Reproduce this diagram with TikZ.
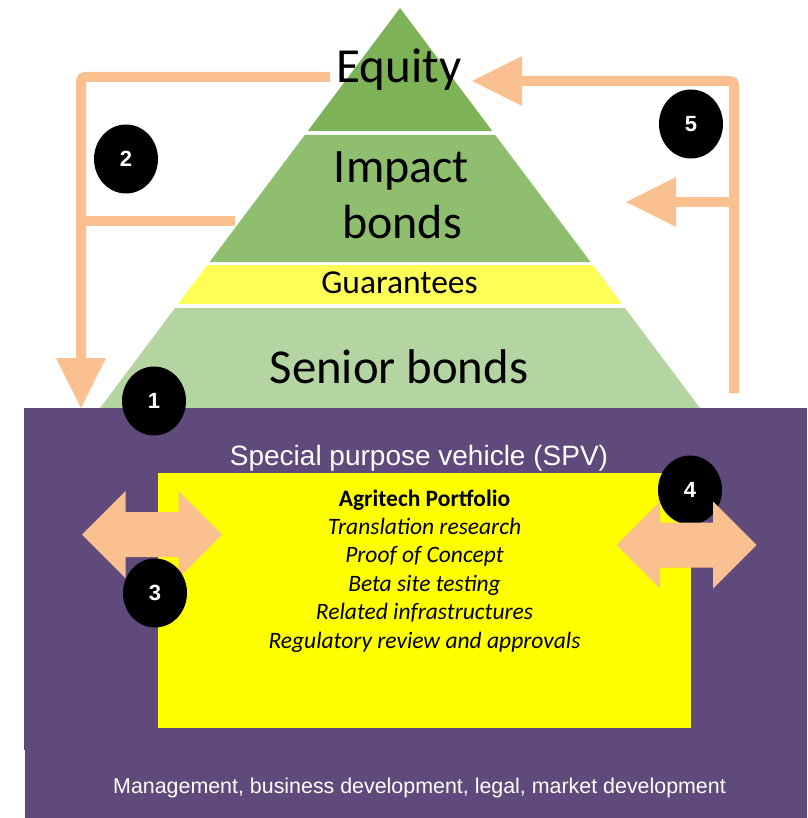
\documentclass[tikz,border=0pt]{standalone}
\usepackage{fontspec}
\setmainfont{Carlito}
\newfontfamily\arialfont{Liberation Sans}
\usetikzlibrary{arrows.meta,shapes.geometric}
\definecolor{equitygreen}{HTML}{7DB356}
\definecolor{impactgreen}{HTML}{8FBE6E}
\definecolor{guaranteeyellow}{HTML}{FFFF55}
\definecolor{seniorgreen}{HTML}{B4D4A2}
\definecolor{spvpurple}{HTML}{604A7B}
\definecolor{flowpeach}{HTML}{FAC090}
\definecolor{portfolioyellow}{HTML}{FFFF00}

\begin{document}
\begin{tikzpicture}[x=1pt,y=-1pt,
  tier/.style={anchor=base, text=black, inner sep=0pt},
  bigtier/.style={tier, font=\fontsize{48}{48}\selectfont},
  flow/.style={draw=flowpeach, line width=10pt, rounded corners=4pt},
  flowtip/.style={-{Triangle[width=50pt,length=50pt,line width=0pt]}},
  badge/.style={shape=ellipse, fill=black, text=white, inner sep=0pt,
    minimum width=64pt, minimum height=69pt,
    font=\arialfont\bfseries\fontsize{22}{22}\selectfont},
  whitetext/.style={text=white, anchor=base, inner sep=0pt},
  stage/.style={anchor=base, inner sep=0pt, font=\itshape\fontsize{23.5}{23.5}\selectfont},
  pics/twoway/.style={code={
    \fill[flowpeach] (-70,0) -- (-26.5,-43.5) -- (-26.5,-22.5) -- (26.5,-22.5)
      -- (26.5,-43.5) -- (70,0) -- (26.5,43.5) -- (26.5,22.5) -- (-26.5,22.5)
      -- (-26.5,43.5) -- cycle;}}
]
\useasboundingbox (0,0) rectangle (807,818);

% capital pyramid, four tiers
\fill[equitygreen] (400,8) -- (492.25,131) -- (307.75,131) -- cycle;
\fill[impactgreen] (304.75,135) -- (495.25,135) -- (590.5,262) -- (209.5,262) -- cycle;
\fill[guaranteeyellow] (207.25,265) -- (592.75,265) -- (622,304) -- (178,304) -- cycle;
\fill[seniorgreen] (175,308) -- (625,308) -- (700,408) -- (100,408) -- cycle;

\node[tier, font=\fontsize{49}{49}\selectfont] (equity) at (399,83) {Equity};
\node[bigtier] (impact) at (401.5,183) {Impact};
\node[bigtier] (bonds) at (402,238) {bonds};
\node[tier, font=\fontsize{33.5}{33.5}\selectfont] (guarantees) at (399.5,293) {Guarantees};
\node[tier, font=\fontsize{48.7}{48.7}\selectfont] (senior) at (399,383) {Senior bonds};

% funding flows
\coordinate (eqout) at (330,77);
\coordinate (leftcorner) at (81,77);
\coordinate (spvin) at (81,408);
\coordinate (impactout) at (235,221);
\coordinate (leftjoin) at (81,221);
\draw[flow, flowtip] (eqout) -- (leftcorner) -- (spvin);
\draw[flow] (impactout) -- (leftjoin);

\coordinate (spvout) at (734,393);
\coordinate (rightcorner) at (734,81);
\coordinate (eqin) at (472,81);
\coordinate (rightjoin) at (734,202);
\coordinate (impactin) at (626,202);
\draw[flow, flowtip] (spvout) -- (rightcorner) -- (eqin);
\draw[flow, flowtip] (rightjoin) -- (impactin);

% special purpose vehicle
\node[fill=spvpurple, anchor=north west, inner sep=0pt,
  minimum width=783pt, minimum height=342pt] (spv) at (24,408) {};
\node[fill=spvpurple, anchor=north west, inner sep=0pt,
  minimum width=782pt, minimum height=68pt] (services) at (25,750) {};
\node[fill=portfolioyellow, anchor=north west, inner sep=0pt,
  minimum width=533pt, minimum height=255pt] (portfoliobox) at (158,473) {};

\node[whitetext, font=\arialfont\fontsize{28}{28}\selectfont] (spvtitle) at (419,465)
  {Special purpose vehicle (SPV)};
\node[whitetext, font=\arialfont\fontsize{21.4}{21.4}\selectfont] (servicestext) at (419.5,793)
  {Management, business development, legal, market development};

\node[anchor=base, inner sep=0pt, font=\bfseries\fontsize{23.5}{23.5}\selectfont]
  (portfolio) at (424.5,506) {Agritech Portfolio};
\foreach \txt [count=\i] in {Translation research, Proof of Concept,
    Beta site testing, Related infrastructures, Regulatory review and approvals}
  \node[stage] (stage\i) at (424.5,{506+28.4*\i}) {\txt};

% exchanges with the portfolio
\node[badge] (n4) at (690,490) {4};
\pic at (686.5,545) {twoway};
\pic at (152,534.5) {twoway};
\node[badge] (n3) at (155,593) {3};

\node[badge] (n1) at (154,401) {1};
\node[badge] (n2) at (126,159) {2};
\node[badge] (n5) at (691,124) {5};
\end{tikzpicture}
\end{document}
